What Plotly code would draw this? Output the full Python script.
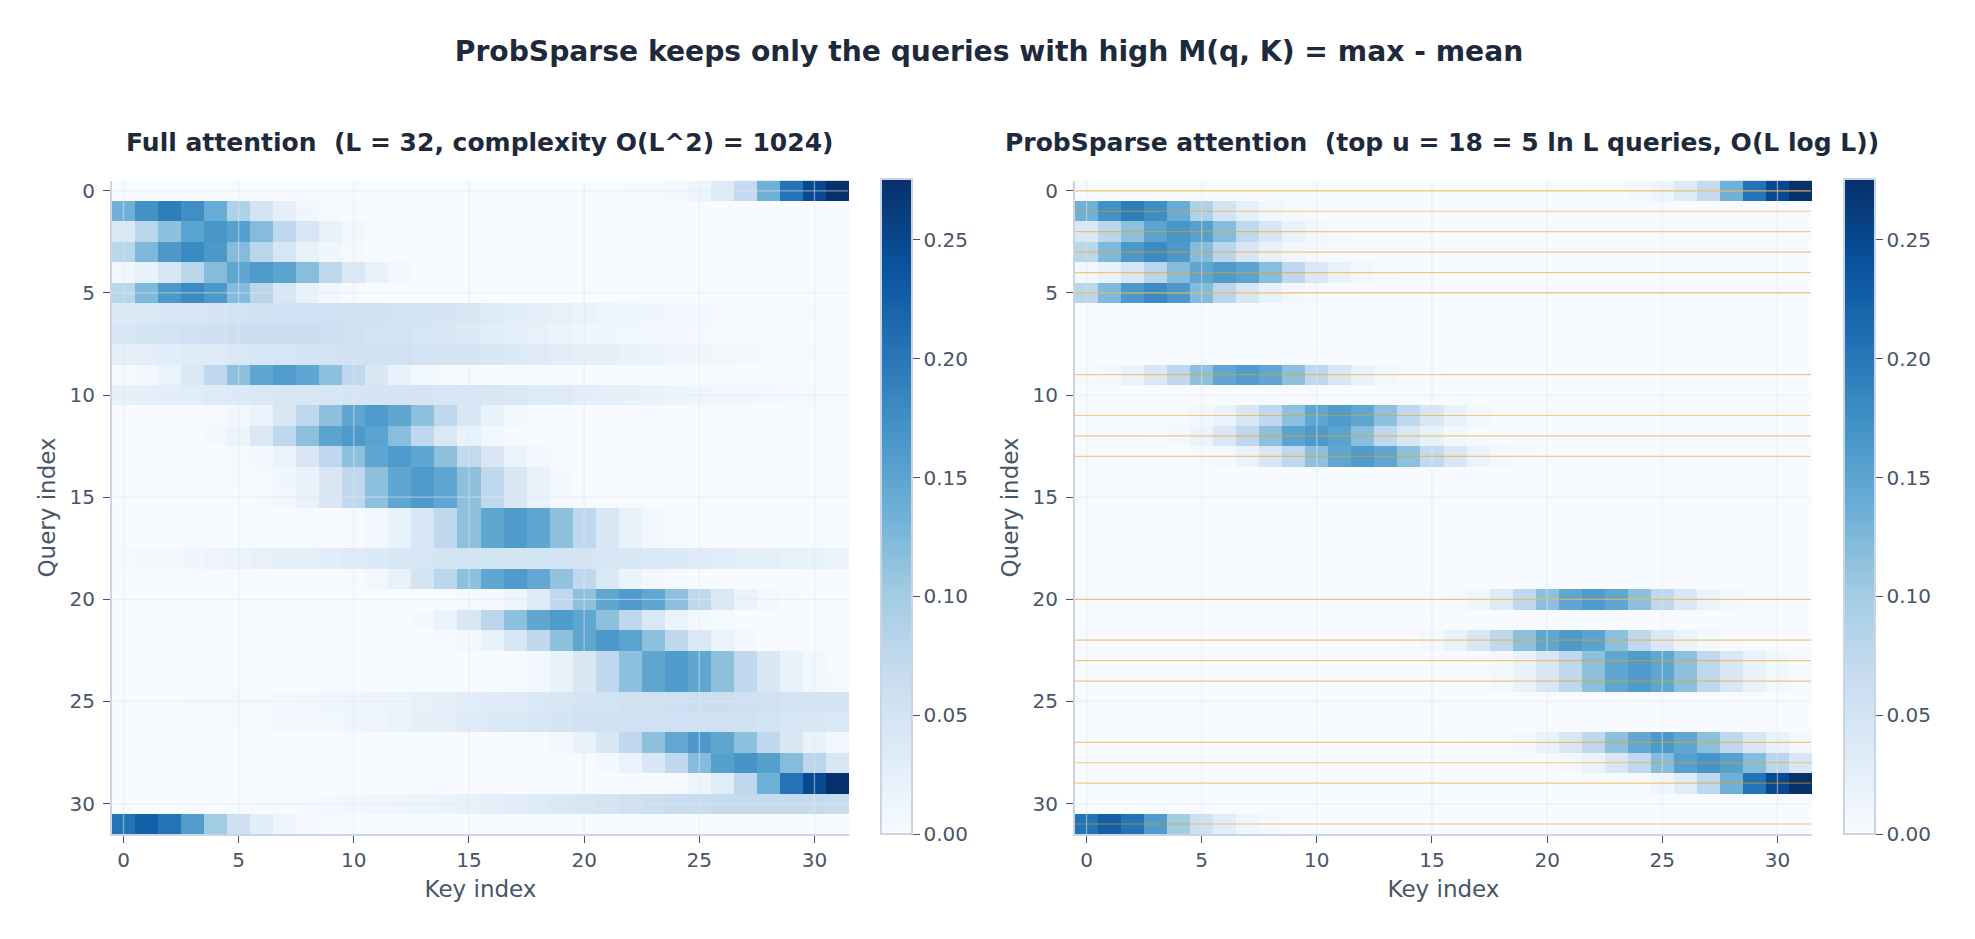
import plotly.graph_objects as go

TITLE = "ProbSparse keeps only the queries with high M(q, K) = max - mean"
LEFT_TITLE = "Full attention  (L = 32, complexity O(L^2) = 1024)"
RIGHT_TITLE = "ProbSparse attention  (top u = 18 = 5 ln L queries, O(L log L))"

keys = list(range(32))
queries = list(range(32))
axis_ticks = [0, 5, 10, 15, 20, 25, 30]
colorbar_ticks = [0.0, 0.05, 0.10, 0.15, 0.20, 0.25]

# Attention weights per query row, one value per key.
q00 = [0]*21 + [.001, .002, .003, .006, .015, .035, .07, .135, .205, .25, .2755]
q01 = [.135, .172, .193, .175, .14, .09, .05, .025, .01, .004, .002] + [0]*21
q02 = [.04, .08, .115, .15, .167, .155, .12, .075, .045, .02, .008, .003, .001] + [0]*19
q03 = [.08, .125, .165, .179, .165, .12, .08, .045, .022, .01, .004, .001] + [0]*20
q04 = [.008, .02, .045, .08, .12, .148, .161, .15, .118, .075, .04, .02, .008, .003, .001] + [0]*17
q05 = [.08, .125, .165, .18, .165, .122, .078, .042, .02, .008, .003, .001] + [0]*20
q06 = [.038, .04, .044, .046, .048, .052, .055, .056, .056, .056, .054, .053, .052, .05, .048, .042,
       .035, .03, .025, .022, .018, .014, .012, .01, .007, .006, .005, .004, .003, .003, .002, .002]
q07 = [.046, .05, .052, .056, .058, .06, .062, .063, .062, .058, .054, .052, .05, .046, .042, .038,
       .03, .026, .021, .016, .013, .011, .009, .007, .006, .005, .004, .003, .002, .002, .001, .001]
q08 = [.025, .028, .03, .033, .035, .04, .043, .046, .05, .052, .053, .054, .054, .052, .05, .048,
       .042, .038, .034, .03, .026, .023, .019, .016, .013, .011, .008, .007, .005, .004, .003, .003]
q09 = [.003, .007, .018, .04, .075, .115, .147, .16, .147, .115, .075, .042, .02, .009, .004, .002] + [0]*16
q10 = [.022, .025, .027, .03, .034, .038, .04, .043, .045, .046, .047, .048, .048, .047, .046, .045,
       .042, .04, .036, .034, .028, .026, .022, .018, .015, .012, .009, .008, .006, .005, .004, .004]
q11 = [0, 0, 0, 0, .002, .008, .018, .042, .075, .115, .147, .161, .147, .115, .075, .042,
       .02, .008, .003, .001] + [0]*12
q12 = [0, 0, 0, .002, .006, .016, .04, .075, .115, .15, .162, .15, .118, .075, .04, .02,
       .009, .003, .001] + [0]*13
q13 = [0, 0, 0, 0, 0, .003, .006, .018, .042, .075, .115, .148, .161, .148, .115, .072,
       .042, .018, .007, .003] + [0]*12
q14 = [0, 0, 0, 0, 0, .002, .004, .01, .02, .042, .075, .115, .147, .161, .147, .115,
       .075, .042, .02, .007, .003] + [0]*11
q15 = [0, 0, 0, 0, 0, .001, .003, .008, .02, .042, .075, .115, .147, .161, .147, .115,
       .075, .042, .02, .007, .003] + [0]*11
q16 = [0]*10 + [.002, .008, .02, .045, .075, .115, .148, .161, .148, .115, .075, .042, .02, .009, .003, .001] + [0]*6
q17 = [0]*10 + [.002, .008, .02, .045, .075, .115, .148, .161, .148, .115, .075, .042, .02, .008, .003, .001] + [0]*6
q18 = [.004, .006, .008, .01, .014, .017, .021, .025, .028, .03, .034, .038, .043, .046, .05, .05,
       .05, .05, .05, .049, .047, .045, .043, .04, .038, .035, .032, .029, .026, .022, .02, .017]
q19 = [0]*10 + [.003, .008, .022, .05, .08, .115, .148, .161, .146, .112, .075, .04, .017, .008, .003, .001] + [0]*6
q20 = [0]*15 + [.002, .005, .012, .035, .075, .115, .148, .161, .148, .115, .075, .04, .018, .007, .003, 0, 0]
q21 = [0]*12 + [.002, .007, .018, .042, .078, .115, .148, .161, .148, .115, .075, .04, .018, .007, .003, .001, 0, 0, 0, 0]
q22 = [0]*14 + [.002, .006, .02, .042, .075, .115, .148, .163, .15, .115, .075, .04, .018, .006, .002, 0, 0, 0]
q23 = [0]*16 + [.001, .003, .007, .02, .042, .075, .115, .148, .161, .148, .115, .075, .042, .02, .009, .003]
q24 = [0]*16 + [.001, .003, .008, .02, .042, .075, .115, .148, .161, .148, .115, .075, .042, .02, .009, .004]
q25 = [0, 0, 0, .002, .002, .004, .004, .006, .008, .01, .012, .014, .017, .022, .025, .03,
       .033, .035, .04, .045, .049, .052, .054, .055, .058, .06, .06, .058, .055, .052, .05, .047]
q26 = [0, 0, .001, .001, .002, .003, .005, .006, .008, .009, .012, .014, .018, .024, .027, .033,
       .037, .04, .045, .05, .053, .055, .056, .056, .056, .056, .055, .053, .05, .046, .042, .04]
q27 = [0]*17 + [.001, .003, .008, .02, .042, .075, .115, .146, .163, .148, .115, .075, .042, .02, .008]
q28 = [0]*20 + [.002, .007, .018, .042, .075, .12, .155, .168, .155, .12, .078, .042]
q29 = [0]*23 + [.001, .003, .012, .032, .075, .135, .205, .25, .2755]
q30 = [0, 0, 0, 0, 0, .001, .002, .003, .005, .006, .008, .01, .012, .015, .018, .022,
       .026, .03, .036, .04, .046, .05, .056, .06, .065, .066, .068, .068, .068, .068, .068, .066]
q31 = [.205, .225, .205, .16, .1, .058, .03, .013, .005, .002, .001] + [0]*21

full_rows = [q00, q01, q02, q03, q04, q05, q06, q07, q08, q09, q10, q11, q12, q13, q14, q15,
             q16, q17, q18, q19, q20, q21, q22, q23, q24, q25, q26, q27, q28, q29, q30, q31]

# Queries kept by the sparsity measurement.
top_queries = [0, 1, 2, 3, 4, 5, 9, 11, 12, 13, 20, 22, 23, 24, 27, 28, 29, 31]
sparse_rows = [row if i in top_queries else [0] * 32 for i, row in enumerate(full_rows)]

W, H = 1975, 939
TEXT = "#1e293b"
MUTED = "#475569"
SPINE = "#cbd5e1"
FONT = "DejaVu Sans"
GRID = "rgba(226,232,240,0.5)"
ZMAX = 0.2755


def colorbar(left_px):
    return dict(
        x=left_px / W, xanchor="left", xpad=0, ypad=0,
        y=(H - 834) / H, yanchor="bottom", lenmode="pixels", len=655,
        thicknessmode="pixels", thickness=31,
        outlinecolor=SPINE, outlinewidth=2,
        ticks="outside", ticklen=7, tickwidth=1.3, tickcolor=MUTED,
        tickvals=colorbar_ticks, tickformat=".2f",
        tickfont=dict(family=FONT, size=20, color=MUTED),
    )


fig = go.Figure()
fig.add_trace(go.Heatmap(z=full_rows, x=keys, y=queries, colorscale="Blues", zmin=0, zmax=ZMAX,
                         colorbar=colorbar(881), xaxis="x", yaxis="y"))
fig.add_trace(go.Heatmap(z=sparse_rows, x=keys, y=queries, colorscale="Blues", zmin=0, zmax=ZMAX,
                         colorbar=colorbar(1844), xaxis="x2", yaxis="y2"))


def axis_style(title, standoff, label_gap):
    return dict(
        title=dict(text=title, standoff=standoff, font=dict(family=FONT, size=23, color=MUTED)),
        tickvals=axis_ticks, showgrid=False, zeroline=False,
        showline=True, linecolor=SPINE, linewidth=2,
        ticks="outside", ticklen=7, tickwidth=1.3, tickcolor=MUTED,
        ticklabelstandoff=label_gap,
        tickfont=dict(family=FONT, size=20, color=MUTED),
    )


shapes = []
for xref, yref in (("x", "y"), ("x2", "y2")):
    for t in axis_ticks:
        shapes.append(dict(type="line", xref=xref, yref=yref, x0=t, x1=t, y0=-0.5, y1=31.5,
                           line=dict(color=GRID, width=1.3), layer="above"))
        shapes.append(dict(type="line", xref=xref, yref=yref, x0=-0.5, x1=31.45, y0=t, y1=t,
                           line=dict(color=GRID, width=1.3), layer="above"))
for q in top_queries:
    shapes.append(dict(type="line", xref="x2", yref="y2", x0=-0.5, x1=31.45, y0=q, y1=q,
                       line=dict(color="rgba(245,158,11,0.55)", width=1.2), layer="above"))

fig.update_layout(
    width=W, height=H,
    autosize=False,
    margin=dict(l=0, r=0, t=0, b=0),
    paper_bgcolor="white", plot_bgcolor="white",
    font=dict(family=FONT),
    title=dict(text=f"<b>{TITLE}</b>", x=989 / W, xanchor="center", y=1 - 51 / H, yanchor="middle",
               font=dict(family=FONT, size=28.2, color=TEXT)),
    xaxis=dict(domain=[112 / W, 849 / W], range=[-0.5, 31.5], anchor="y", **axis_style("Key index", 10, 0)),
    yaxis=dict(domain=[1 - 834 / H, 1 - 179 / H], range=[31.5, -0.5], anchor="x", **axis_style("Query index", 7, 4)),
    xaxis2=dict(domain=[1075 / W, 1812 / W], range=[-0.5, 31.5], anchor="y2", **axis_style("Key index", 10, 0)),
    yaxis2=dict(domain=[1 - 834 / H, 1 - 179 / H], range=[31.5, -0.5], anchor="x2", **axis_style("Query index", 7, 4)),
    annotations=[
        dict(text=f"<b>{LEFT_TITLE}</b>", xref="paper", yref="paper", x=479 / W, y=1 - 141 / H,
             xanchor="center", yanchor="middle", showarrow=False,
             font=dict(family=FONT, size=25, color=TEXT)),
        dict(text=f"<b>{RIGHT_TITLE}</b>", xref="paper", yref="paper", x=1442 / W, y=1 - 141 / H,
             xanchor="center", yanchor="middle", showarrow=False,
             font=dict(family=FONT, size=25, color=TEXT)),
    ],
    shapes=shapes,
)

fig.write_html("out.html")
